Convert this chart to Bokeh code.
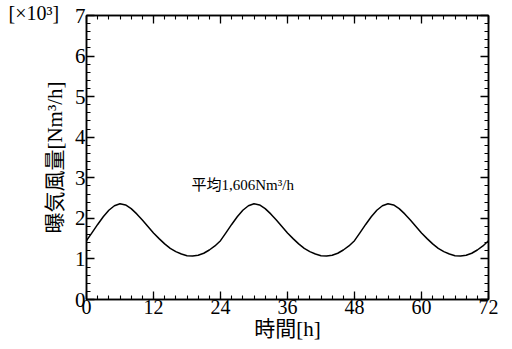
from bokeh.plotting import figure
from bokeh.models import LinearAxis, FixedTicker, Label, Range1d
from bokeh.embed import file_html
from bokeh.resources import INLINE

# hours and aeration flow [x10^3 Nm3/h]
hours = list(range(0, 73))
flow = [
    1.45, 1.65, 1.85, 2.04, 2.20, 2.31, 2.36, 2.33, 2.24, 2.11, 1.96, 1.80,
    1.64, 1.50, 1.37, 1.26, 1.18, 1.12, 1.08, 1.07, 1.09, 1.14, 1.22, 1.32,
    1.45, 1.65, 1.85, 2.04, 2.20, 2.31, 2.36, 2.33, 2.24, 2.11, 1.96, 1.80,
    1.64, 1.50, 1.37, 1.26, 1.18, 1.12, 1.08, 1.07, 1.09, 1.14, 1.22, 1.32,
    1.45, 1.65, 1.85, 2.04, 2.20, 2.31, 2.36, 2.33, 2.24, 2.11, 1.96, 1.80,
    1.64, 1.50, 1.37, 1.26, 1.18, 1.12, 1.08, 1.07, 1.09, 1.14, 1.22, 1.32,
    1.45,
]
x_ticks = [0, 12, 24, 36, 48, 60, 72]
x_minor = list(range(0, 73, 2))
y_ticks = [0, 1, 2, 3, 4, 5, 6, 7]
y_minor = [i / 5 for i in range(0, 36)]
annotation = "平均1,606Nm³/h"
scale_note = "[×10³]"

SERIF = "'Liberation Serif', 'Noto Sans CJK JP'"

p = figure(width=512, height=349, output_backend="svg", toolbar_location=None,
           x_range=Range1d(0, 72), y_range=Range1d(0, 7),
           min_border_left=86, min_border_right=24, min_border_top=15,
           min_border_bottom=50, x_axis_location=None, y_axis_location=None)
p.xgrid.visible = False
p.ygrid.visible = False
p.outline_line_color = "black"
p.outline_line_width = 1.5
p.background_fill_color = "white"
p.border_fill_color = "white"

p.title.text = scale_note
p.title.align = "left"
p.title.vertical_align = "top"
p.title.offset = -78
p.title.standoff = -21
p.title.text_font = SERIF
p.title.text_font_style = "normal"
p.title.text_font_size = "20px"
p.title.text_color = "black"

p.line(hours, flow, line_color="black", line_width=1.5)

def style(ax, labels=True, size="19px"):
    ax.axis_line_color = "black"
    ax.axis_line_width = 1.5
    ax.major_tick_in = 8
    ax.major_tick_out = 0
    ax.minor_tick_in = 4
    ax.minor_tick_out = 0
    ax.major_tick_line_width = 1.3
    ax.minor_tick_line_width = 1.1
    ax.major_tick_line_color = "black"
    ax.minor_tick_line_color = "black"
    ax.major_label_text_font = SERIF
    ax.major_label_text_font_size = size
    ax.major_label_text_color = "black"
    ax.axis_label_text_font = SERIF
    ax.axis_label_text_font_style = "normal"
    ax.axis_label_text_font_size = "21px"
    ax.axis_label_text_color = "black"
    if not labels:
        ax.major_label_text_alpha = 0

xb = LinearAxis(ticker=FixedTicker(ticks=x_ticks, minor_ticks=x_minor), axis_label="時間[h]")
style(xb, size="20px")
xb.major_label_standoff = 0
xb.axis_label_standoff = 0
p.add_layout(xb, "below")

yl = LinearAxis(ticker=FixedTicker(ticks=y_ticks, minor_ticks=y_minor), axis_label="曝気風量[Nm³/h]")
style(yl, size="21px")
yl.major_label_standoff = 1
yl.axis_label_standoff = 5
p.add_layout(yl, "left")

xt = LinearAxis(ticker=FixedTicker(ticks=x_ticks, minor_ticks=x_minor))
style(xt, labels=False)
xt.major_label_text_font_size = "0px"
xt.major_label_standoff = 0
p.add_layout(xt, "above")

yr = LinearAxis(ticker=FixedTicker(ticks=y_ticks, minor_ticks=y_minor))
style(yr, labels=False)
yr.major_label_text_font_size = "0px"
yr.major_label_standoff = 0
p.add_layout(yr, "right")

p.add_layout(Label(x=18.8, y=2.83, text=annotation, text_font=SERIF,
                   text_font_size="15px", text_align="left", text_baseline="middle",
                   text_color="black"))

open("out.html", "w").write(file_html(p, INLINE))
